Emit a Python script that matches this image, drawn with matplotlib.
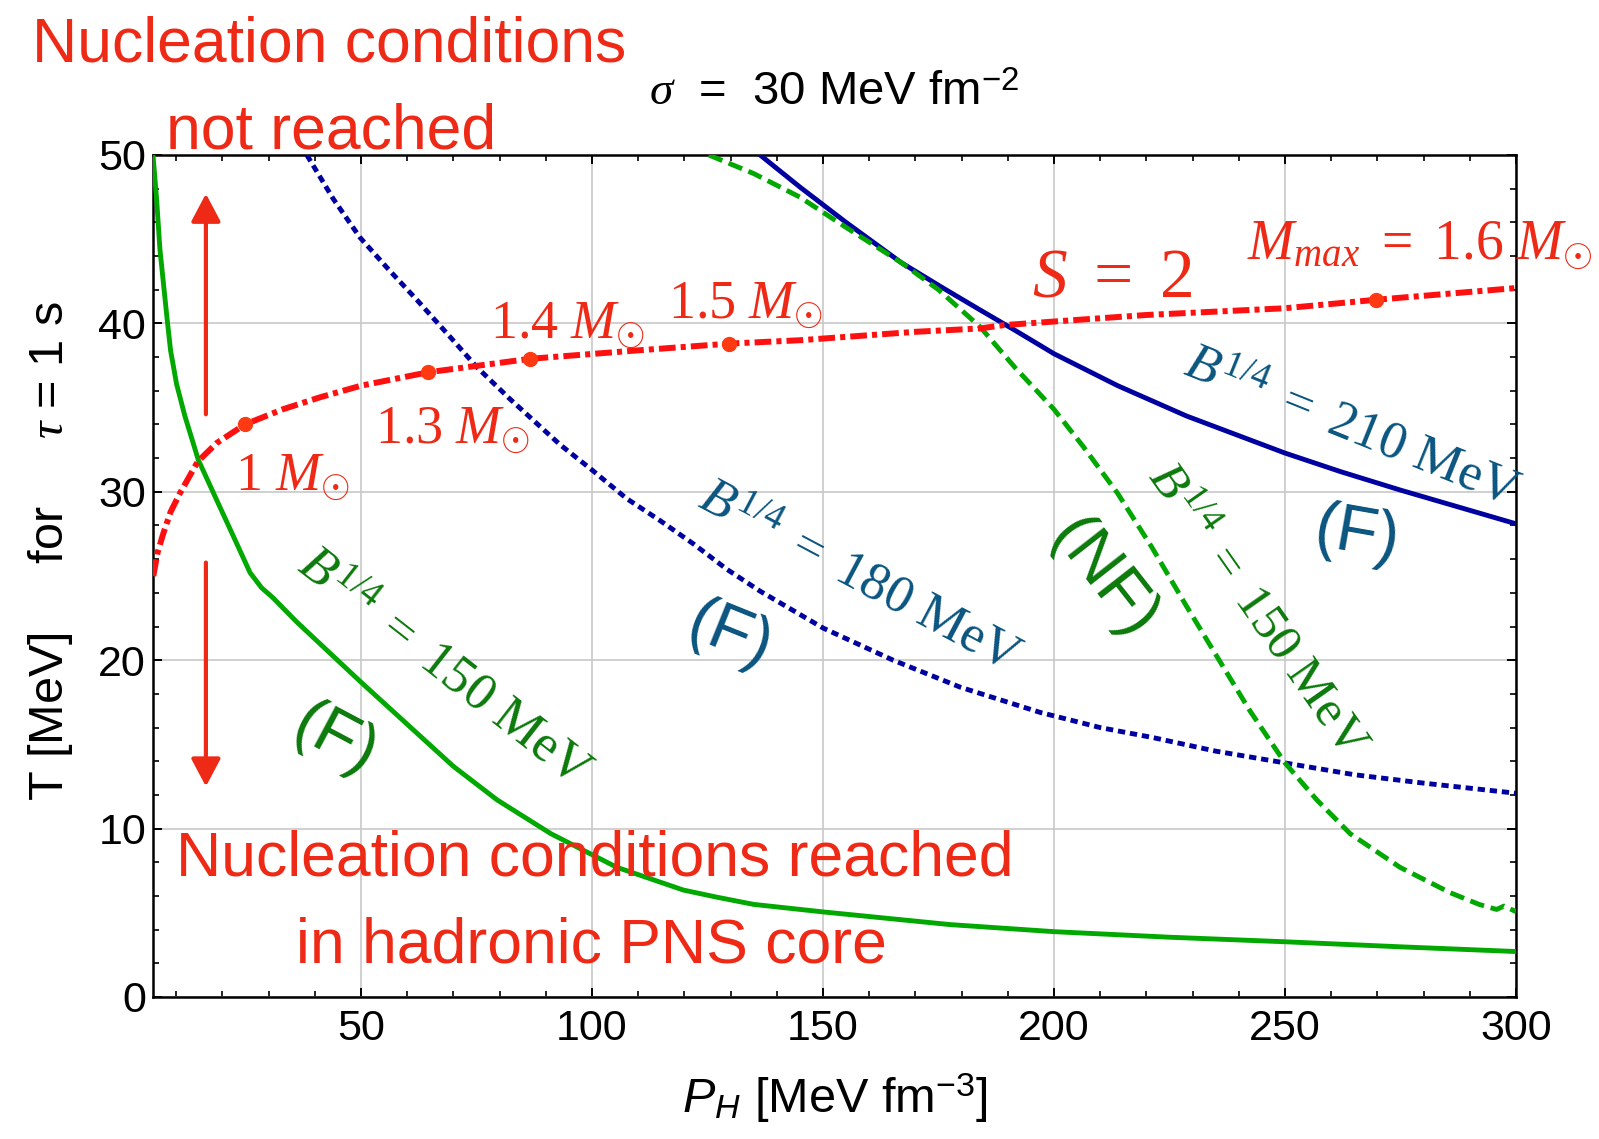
import matplotlib
matplotlib.use("Agg")
import matplotlib.pyplot as plt
from matplotlib.ticker import MultipleLocator

plt.rcParams['mathtext.fontset'] = 'custom'
plt.rcParams['mathtext.rm'] = 'Liberation Serif'
plt.rcParams['mathtext.it'] = 'Liberation Serif:italic'
plt.rcParams['mathtext.sf'] = 'Liberation Sans'
plt.rcParams['mathtext.cal'] = 'Liberation Sans:italic'
plt.rcParams['font.family'] = ['Liberation Sans', 'DejaVu Sans']

# ---------------- data ----------------
green_F_x = [5.0, 5.8, 6.5, 8.0, 8.8, 10.1, 11.9, 14.8, 18.8, 22.5, 26.0, 28.5, 31.0, 36.0, 42.6, 50.0,
             60.0, 70.0, 79.5, 91.1, 105.4, 119.8, 127.0, 135.0, 150.1, 177.5, 200.0, 225.0, 250.0,
             275.0, 300.0]
green_F_y = [50.0, 47.3, 44.4, 40.4, 38.4, 36.4, 34.5, 31.9, 29.5, 27.3, 25.2, 24.3, 23.7, 22.3, 20.6, 18.7,
             16.2, 13.7, 11.7, 9.7, 7.7, 6.35, 5.93, 5.5, 5.05, 4.3, 3.88, 3.55, 3.28,
             2.98, 2.7]

blue_180_x = [38.3, 44.0, 49.8, 56.0, 62.1, 69.3, 75.1, 82.3, 93.1, 100.0, 107.5, 114.7, 122.0, 129.2,
              136.4, 150.1, 165.2, 179.7, 197.0, 210.0, 221.5, 235.0, 250.0, 265.0, 280.0, 300.0]
blue_180_y = [50.0, 47.4, 45.1, 43.2, 41.4, 39.2, 37.4, 35.5, 32.8, 31.3, 29.6, 28.3, 26.9, 25.4,
              24.1, 21.9, 20.0, 18.4, 16.9, 16.0, 15.4, 14.6, 13.9, 13.2, 12.7, 12.1]

blue_210_x = [136.4, 145.0, 155.0, 167.0, 176.0, 184.0, 191.5, 200.0, 213.8, 228.7, 250.0, 262.0, 275.0,
              287.5, 300.0]
blue_210_y = [50.0, 48.1, 46.0, 43.6, 42.1, 40.8, 39.6, 38.2, 36.3, 34.5, 32.3, 31.2, 30.1,
              29.1, 28.1]

green_NF_x = [125.3, 135.0, 145.0, 155.0, 167.0, 175.0, 184.0, 191.5, 200.0, 206.3, 213.8, 221.2, 228.7,
              236.2, 242.4, 250.0, 256.9, 264.1, 274.9, 285.7, 292.0, 295.8, 297.4, 300.0]
green_NF_y = [50.0, 48.9, 47.5, 45.7, 43.6, 42.0, 39.8, 37.4, 34.9, 32.7, 29.9, 26.7, 23.2,
              19.8, 17.0, 13.9, 11.7, 9.7, 7.7, 6.2, 5.5, 5.2, 5.4, 5.07]

S2_x = [5.07, 6.0, 7.2, 8.8, 10.8, 14.7, 18.8, 24.9, 33.1, 41.0, 50.0, 64.6, 86.7, 110.0, 129.7,
        145.0, 170.0, 184.0, 189.2, 220.0, 250.0, 269.6, 300.0]
S2_y = [25.0, 26.4, 27.5, 28.8, 29.9, 31.8, 32.9, 34.0, 34.9, 35.6, 36.3, 37.1, 37.9, 38.4, 38.8,
        39.0, 39.5, 39.7, 39.9, 40.5, 40.9, 41.4, 42.1]

mass_x = [24.9, 64.6, 86.7, 129.7, 269.6]
mass_y = [34.0, 37.1, 37.9, 38.8, 41.4]
mass_labels = [r'$1\ M_{\odot}$', r'$1.3\ M_{\odot}$', r'$1.4\ M_{\odot}$',
               r'$1.5\ M_{\odot}$', r'$M_{max}\ =\ 1.6\ M_{\odot}$']
mass_label_x = [22.7, 53.0, 77.9, 116.5, 241.8]
mass_label_y = [30.1, 32.9, 39.1, 40.3, 43.8]
mass_label_size = [39, 39, 39, 39, 40]

arrow_x = 16.45
arrow_up = (34.6, 47.7)
arrow_down = (25.8, 12.5)

x_ticks = [50, 100, 150, 200, 250, 300]
y_ticks = [0, 10, 20, 30, 40, 50]

# ---------------- colours ----------------
RED_TXT = '#ee2a16'
RED_LINE = '#ff1010'
DOT = '#ff3a12'
GREEN_LINE = '#00a800'
GREEN_TXT = '#0b7a0b'
BLUE_LINE = '#0000a0'
BLUE_TXT = '#0a5580'

fig = plt.figure(figsize=(15.99, 11.39), dpi=100)
ax = fig.add_axes([153/1599, 1-997/1139, 1363/1599, 842/1139])

ax.set_xlim(5, 300)
ax.set_ylim(0, 50)
ax.set_xticks(x_ticks)
ax.set_yticks(y_ticks)
ax.xaxis.set_minor_locator(MultipleLocator(10))
ax.yaxis.set_minor_locator(MultipleLocator(2))
ax.tick_params(which='both', direction='in', top=True, right=True, labeltop=False, labelright=False)
ax.tick_params(which='major', length=6.5, width=1.4, labelsize=31)
ax.tick_params(which='minor', length=4.5, width=1.2)
ax.tick_params(axis='x', which='major', pad=9)
ax.tick_params(axis='y', which='major', pad=5)
for sp in ax.spines.values():
    sp.set_linewidth(1.8)
ax.grid(True, which='major', color='#c8c8c8', lw=1.2)
ax.set_axisbelow(True)

# curves
ax.plot(green_F_x, green_F_y, color=GREEN_LINE, lw=3.5, solid_capstyle='butt', zorder=3)
ax.plot(blue_180_x, blue_180_y, color=BLUE_LINE, lw=3.5, linestyle=(0, (1.5, 1.0)),
        dash_capstyle='butt', zorder=3)
ax.plot(blue_210_x, blue_210_y, color=BLUE_LINE, lw=3.5, zorder=3)
ax.plot(green_NF_x, green_NF_y, color=GREEN_LINE, lw=3.5, linestyle=(0, (3.0, 1.4)),
        dash_capstyle='butt', zorder=3.5)
ax.plot(S2_x, S2_y, color=RED_LINE, lw=4.3, linestyle=(0, (2.8, 0.85, 0.85, 0.85)),
        dash_capstyle='butt', zorder=4)
ax.plot(mass_x, mass_y, linestyle='none', marker='o', ms=10, color=DOT, zorder=5)

for lab, lx, ly, fs in zip(mass_labels, mass_label_x, mass_label_y, mass_label_size):
    ax.text(lx, ly, lab, color=RED_TXT, fontsize=fs, ha='left', va='baseline', zorder=6)

ax.text(195.3, 41.6, r'$S\ =\ 2$', color=RED_TXT, fontsize=50, ha='left', va='baseline', zorder=6)

# arrows
arrow_kw = dict(arrowstyle='-|>,head_length=1.7,head_width=0.9', color=RED_TXT, lw=3.0,
                shrinkA=0, shrinkB=0, mutation_scale=10)
ax.annotate('', xy=(arrow_x, arrow_up[1]), xytext=(arrow_x, arrow_up[0]), arrowprops=arrow_kw, zorder=5)
ax.annotate('', xy=(arrow_x, arrow_down[1]), xytext=(arrow_x, arrow_down[0]), arrowprops=arrow_kw, zorder=5)

# curve labels
lab_kw = dict(ha='center', va='center', rotation_mode='anchor', zorder=6)
ax.text(264.3, 33.8, r'$B^{1/4}\ =\ 210\ \mathrm{MeV}$', color=BLUE_TXT, fontsize=38, rotation=-22, **lab_kw)
ax.text(265.6, 27.4, '(F)', color=BLUE_TXT, fontsize=48, rotation=-10, **lab_kw)
ax.text(157.8, 24.9, r'$B^{1/4}\ =\ 180\ \mathrm{MeV}$', color=BLUE_TXT, fontsize=38, rotation=-28, **lab_kw)
ax.text(129.8, 21.4, '(F)', color=BLUE_TXT, fontsize=48, rotation=-22, **lab_kw)
ax.text(68.0, 19.5, r'$B^{1/4}\ =\ 150\ \mathrm{MeV}$', color=GREEN_TXT, fontsize=38, rotation=-38, **lab_kw)
ax.text(44.4, 15.2, '(F)', color=GREEN_TXT, fontsize=48, rotation=-28, **lab_kw)
ax.text(244.2, 23.0, r'$B^{1/4}\ =\ 150\ \mathrm{MeV}$', color=GREEN_TXT, fontsize=37, rotation=-55, **lab_kw)
ax.text(210.7, 24.8, '(NF)', color=GREEN_TXT, fontsize=48, rotation=-52, **lab_kw)

# region labels
ax.text(9.98, 7.24, 'Nucleation conditions reached', color=RED_TXT, fontsize=45,
        ha='left', va='baseline', zorder=6)
ax.text(36.0, 2.04, 'in hadronic PNS core', color=RED_TXT, fontsize=45,
        ha='left', va='baseline', zorder=6)
fig.text(31.6/1599, 1-61.7/1139, 'Nucleation conditions', color=RED_TXT, fontsize=45,
         ha='left', va='baseline')
fig.text(166/1599, 1-148.3/1139, 'not reached', color=RED_TXT, fontsize=45,
         ha='left', va='baseline')

# title and axis labels
fig.text(834/1599, 1-105/1139, r'$\sigma$  =  30 MeV fm$^{\mathsf{-2}}$', fontsize=34,
         ha='center', va='baseline')
ax.set_xlabel(r'$\mathcal{P}_{\mathcal{H}}$ [MeV fm$^{\mathsf{-3}}$]', fontsize=35, va='baseline')
ax.xaxis.set_label_coords(0.5, -0.138)
ax.set_ylabel(r'T [MeV]     for     $\tau$ = 1 s', fontsize=35, va='center')
ax.yaxis.set_label_coords(-0.075, 0.53)

fig.savefig('out.png', dpi=100)
